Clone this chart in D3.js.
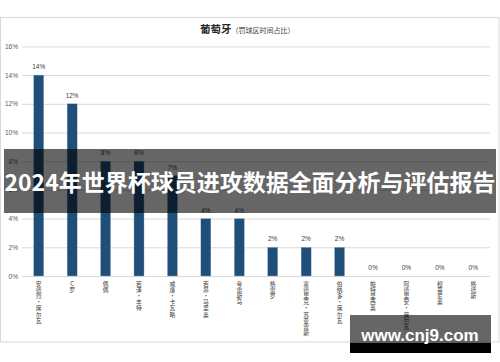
<!DOCTYPE html>
<html><head><meta charset="utf-8">
<script src="https://cdn.jsdelivr.net/npm/d3@7/dist/d3.min.js"></script>
<style>
html,body{margin:0;padding:0;background:#fff;}
svg{display:block;font-family:"Noto Sans CJK SC","Noto Sans",sans-serif;}
</style></head>
<body><svg id="c" width="500" height="362"></svg>
<script>
const players = ["安德烈·席尔瓦","C罗","佩佩","若泽·丰特","威廉·卡瓦略","若昂·马里奥","夸雷斯马","格雷罗","塞德里克·苏亚雷斯","伯纳多·席尔瓦","帕特里西奥","阿德里安·席尔瓦","穆蒂尼奥","格德斯"];
const values = [14,12,8,8,7,4,4,2,2,2,0,0,0,0];
const yTicks = [0,2,4,6,8,10,12,14,16];
const titleMain = "葡萄牙";
const titleSub = "（罚球区时间占比）";
const bannerText = "2024年世界杯球员进攻数据全面分析与评估报告";
const watermark = "www.cnj9.com";

const svg = d3.select("#c");
const L = 22, R = 490, T = 46.4, B = 276;
const x = d3.scaleBand().domain(players).range([L, R]).paddingInner(0.7).paddingOuter(0.35);
const y = d3.scaleLinear().domain([0, 16]).range([B, T]);

// frame
svg.append("rect").attr("x",0.5).attr("y",17.5).attr("width",498.5).attr("height",324.5)
  .attr("fill","#fff").attr("stroke","#d9d9d9").attr("stroke-width",1);

// title
const tt = svg.append("text").attr("x",200).attr("y",33).attr("fill","#262626");
tt.append("tspan").attr("font-size",10.5).attr("font-weight","bold").text(titleMain);
tt.append("tspan").attr("font-size",7).attr("fill","#404040").text(titleSub);

// grid
const yAxis = d3.axisLeft(y).tickValues(yTicks).tickFormat(d => d + "%").tickSize(-(R - L)).tickPadding(4);
const ga = svg.append("g").attr("transform",`translate(${L},0)`).call(yAxis);
ga.select(".domain").remove();
ga.selectAll(".tick line").attr("stroke","#d9d9d9").attr("stroke-width",1);
ga.selectAll(".tick text").attr("fill","#595959").attr("font-size",6.5).attr("font-family","Liberation Sans, Arial, sans-serif");

// bars
svg.append("g").selectAll("rect").data(values).join("rect")
  .attr("x",(d,i)=>x(players[i])).attr("width",x.bandwidth())
  .attr("y",d=>y(d)).attr("height",d=>B - y(d))
  .attr("fill","#1f4e79").attr("stroke","#9db3cb").attr("stroke-width",0.4);

// value labels
svg.append("g").selectAll("text").data(values).join("text")
  .attr("x",(d,i)=>x(players[i]) + x.bandwidth()/2).attr("y",d=>y(d) - 6)
  .attr("text-anchor","middle").attr("font-size",6.5).attr("fill","#404040")
  .attr("font-family","Liberation Sans, Arial, sans-serif")
  .text(d=>d + "%");

// category labels (vertical, upright characters)
const cg = svg.append("g");
players.forEach(p=>{
  const cx = x(p) + x.bandwidth()/2;
  Array.from(p).forEach((ch,k)=>{
    cg.append("text").attr("x",cx).attr("y",285.5 + k*6.2)
      .attr("font-size",5.8).attr("fill","#404040").attr("text-anchor","middle").text(ch);
  });
});

// banner overlay
svg.append("rect").attr("x",4).attr("y",149).attr("width",492).attr("height",64)
  .attr("fill","#000").attr("fill-opacity",0.6);
svg.append("text").attr("x",250).attr("y",191).attr("text-anchor","middle")
  .attr("font-size",23).attr("font-weight","bold").attr("fill","#fff")
  .attr("textLength",491).attr("lengthAdjust","spacingAndGlyphs")
  .text(bannerText);

// watermark
svg.append("rect").attr("x",350).attr("y",315).attr("width",141).attr("height",28)
  .attr("fill","#000").attr("fill-opacity",0.6);
svg.append("rect").attr("x",350).attr("y",343).attr("width",141).attr("height",10).attr("fill","#000");
svg.append("text").attr("x",420).attr("y",341).attr("text-anchor","middle")
  .attr("font-size",17).attr("font-weight","bold").attr("fill","#fff")
  .attr("font-family","Liberation Sans, Arial, sans-serif")
  .text(watermark);
</script></body></html>
